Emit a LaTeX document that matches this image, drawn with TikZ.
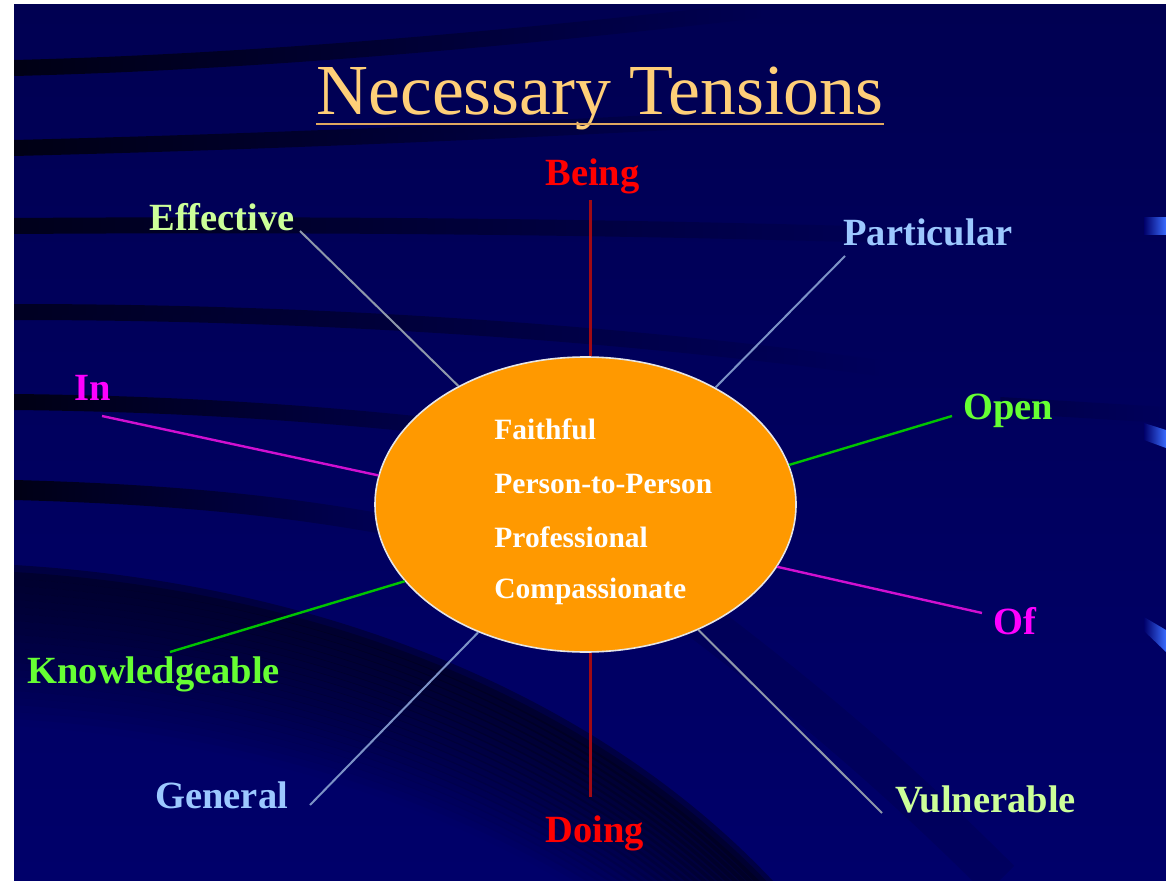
\documentclass[tikz,border=0pt]{standalone}
\usepackage{fontspec}
\setmainfont{Liberation Serif}
\usetikzlibrary{shapes.geometric,fadings}

% palette
\definecolor{bgtop}{HTML}{000052}
\definecolor{bgbottom}{HTML}{00006A}
\definecolor{stripe}{HTML}{000014}
\definecolor{barblue}{HTML}{3A6CFF}
\definecolor{titlecol}{HTML}{FFCF78}
\definecolor{ruleline}{HTML}{E0A860}
\definecolor{corefill}{HTML}{FF9900}
\definecolor{rim}{HTML}{E6E6E6}
\definecolor{redtext}{HTML}{FF0000}
\definecolor{redline}{HTML}{A00A14}
\definecolor{paletext}{HTML}{CCFF99}
\definecolor{paleline}{HTML}{8E98AA}
\definecolor{bluetext}{HTML}{9CC8FF}
\definecolor{blueline}{HTML}{7C92C6}
\definecolor{greentext}{HTML}{66FF33}
\definecolor{greenline}{HTML}{00C400}
\definecolor{magtext}{HTML}{FF00FF}
\definecolor{magline}{HTML}{D010D0}

\tikzfading[name=fade out east, left color=transparent!0, right color=transparent!100]

\begin{document}
\begin{tikzpicture}[x=0.5pt,y=-0.5pt,
  lbl/.style={anchor=base west, inner sep=0pt, font=\fontsize{19.25pt}{23pt}\selectfont\bfseries},
  corelbl/.style={anchor=base west, inner sep=0pt, text=white, font=\fontsize{14.75pt}{17pt}\selectfont\bfseries},
  spoke/.style={line width=1pt},
  band/.style={draw=stripe, line width=8pt, path fading=fade out east},
  bar/.style={left color=bgbottom, right color=barblue},
]
% page and slide background
\useasboundingbox (0,0) rectangle (1166,882);
\fill[white] (0,0) rectangle (1166,882);
\shade[top color=bgtop, bottom color=bgbottom] (14,5) rectangle (1166,880);

\begin{scope}
\clip (14,5) rectangle (1166,880);
% dark sweeping bands
\draw[band] (14,68) .. controls (250,62) and (500,40) .. (760,10);
\draw[band] (14,148) .. controls (250,142) and (500,132) .. (780,116);
\draw[band, opacity=0.9] (14,226) .. controls (300,224) and (600,226) .. (920,236);
\draw[band, opacity=0.8] (14,312) .. controls (300,312) and (600,330) .. (880,368);
\draw[band, opacity=0.3] (1000,405) -- (1166,415);
\draw[band] (14,402) .. controls (200,404) and (380,416) .. (580,444);
\draw[band, line width=10pt] (14,490) .. controls (200,495) and (320,510) .. (440,535);
% broad shadow in the lower left, darkest along its upper edge
\foreach \k in {0,...,21} {
  \draw[stripe, line width=7pt, opacity={0.42*(1-\k/22)}]
    (14,{572+7*\k}) .. controls (330,{591+7*\k}) and (600,{706+7*\k}) .. (770,{888+7*\k});
}
\draw[stripe, line width=20pt, opacity=0.12] (690,612) .. controls (780,680) and (880,760) .. (1000,880);
% accent bars on the right edge
\shade[bar] (1144,218) -- (1166,218) -- (1166,235) -- (1144,235) -- cycle;
\shade[bar] (1144,423) -- (1166,430) -- (1166,448) -- (1144,440) -- cycle;
\shade[bar] (1144,617) -- (1166,630) -- (1166,652) -- (1144,631) -- cycle;
\end{scope}

% title
\node[anchor=base west, inner sep=0pt, text=titlecol,
      font=\fontsize{35.9pt}{40pt}\selectfont] (title) at (316,115) {Necessary Tensions};
\draw[ruleline, line width=1.2pt] ([yshift=-4.5pt]title.base west) -- ([yshift=-4.5pt]title.base east);

% central ellipse
\node[ellipse, draw=rim, fill=corefill, line width=0.8pt, inner sep=0pt,
      minimum width=210.5pt, minimum height=147.5pt] (core) at (585.5,504.5) {};
\node[corelbl] (q1) at (494,439) {Faithful};
\node[corelbl] (q2) at (494,493) {Person-to-Person};
\node[corelbl] (q3) at (494,547) {Professional};
\node[corelbl] (q4) at (494,598) {Compassionate};

% labels around the ellipse
\node[lbl, text=redtext]   (being)   at (545,186) {Being};
\node[lbl, text=redtext]   (doing)   at (545,842) {Doing};
\node[lbl, text=paletext]  (effective) at (149,230) {Effective};
\node[lbl, text=paletext]  (vulnerable) at (895,812) {Vulnerable};
\node[lbl, text=bluetext]  (particular) at (843,245) {Particular};
\node[lbl, text=bluetext]  (general) at (155,808) {General};
\node[lbl, text=greentext] (open) at (963,419) {Open};
\node[lbl, text=greentext] (knowledgeable) at (27,683) {Knowledgeable};
\node[lbl, text=magtext]   (in) at (74,400) {In};
\node[lbl, text=magtext]   (of) at (993,634) {Of};

% outer ends of the spokes
\coordinate (beingEnd) at (590,200);
\coordinate (doingEnd) at (590,797);
\coordinate (effEnd) at (300,231);
\coordinate (vulEnd) at (882,813);
\coordinate (partEnd) at (845,256);
\coordinate (genEnd) at (310,805);
\coordinate (openEnd) at (952,416);
\coordinate (knowEnd) at (170,652);
\coordinate (inEnd) at (102,416);
\coordinate (ofEnd) at (982,613);

% spokes
\draw[spoke, redline, line width=1.5pt] (beingEnd) -- (beingEnd |- core.north);
\draw[spoke, redline, line width=1.5pt] (doingEnd) -- (doingEnd |- core.south);
\draw[spoke, paleline] (effEnd) -- (core.137);
\draw[spoke, paleline] (vulEnd) -- (core.312);
\draw[spoke, blueline] (partEnd) -- (core.42);
\draw[spoke, blueline] (genEnd) -- (core.230);
\draw[spoke, greenline, line width=1.2pt] (openEnd) -- (core.11);
\draw[spoke, greenline, line width=1.2pt] (knowEnd) -- (core.203);
\draw[spoke, magline, line width=1.2pt] (inEnd) -- (core.172);
\draw[spoke, magline, line width=1.2pt] (ofEnd) -- (core.342);
\end{tikzpicture}
\end{document}
